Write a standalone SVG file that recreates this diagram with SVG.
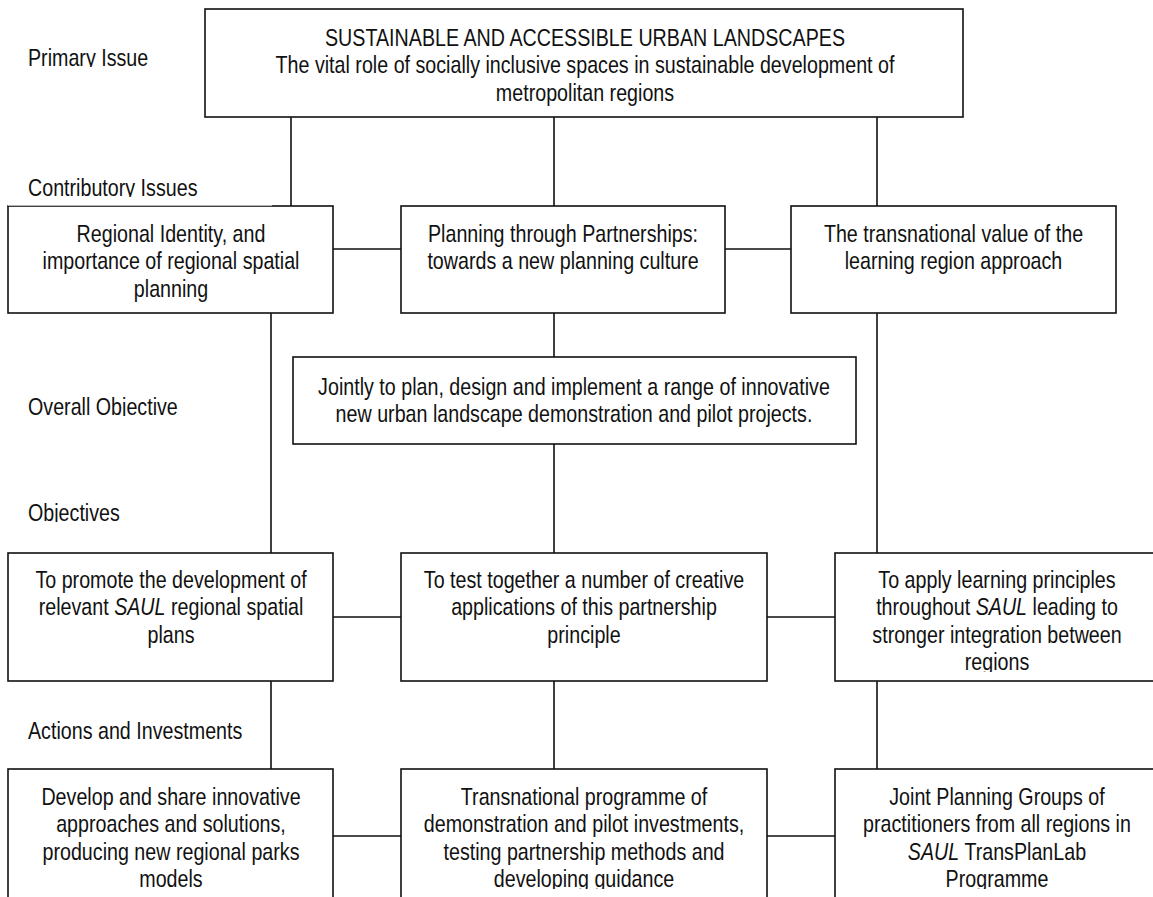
<svg xmlns="http://www.w3.org/2000/svg" width="1153" height="897" viewBox="0 0 1153 897">
<style>
.box{fill:#fff;stroke:#111;stroke-width:1.6}
.ln{stroke:#111;stroke-width:1.6;fill:none}
text{font-family:"Liberation Sans",Arial,sans-serif;font-size:24px;fill:#111}
.c{text-anchor:middle}
.i{font-style:italic}
</style>
<defs>
<clipPath id="cl1"><rect x="0" y="30" width="200" height="37"/></clipPath>
<clipPath id="cl2"><rect x="0" y="170" width="280" height="27"/></clipPath>
<clipPath id="cl3"><rect x="0" y="390" width="260" height="26"/></clipPath>
<clipPath id="cl4"><rect x="0" y="495" width="260" height="27"/></clipPath>
<clipPath id="clR4"><rect x="835" y="553" width="330" height="119"/></clipPath>
<clipPath id="clB"><rect x="0" y="769" width="1153" height="120"/></clipPath>
</defs>
<rect width="1153" height="897" fill="#fff"/>

<g id="connectors">
<path class="ln" d="M291 117V206M554 117V206M877 117V206"/>
<path class="ln" d="M333 249H401M725 249H791"/>
<path class="ln" d="M554 313V357M554 444V553M271 313V553M877 313V553"/>
<path class="ln" d="M333 617H401M767 617H835"/>
<path class="ln" d="M271 681V769M554 681V769M877 681V769"/>
<path class="ln" d="M333 836H401M767 836H835"/>
</g>

<g id="labels">
<g clip-path="url(#cl1)"><text transform="translate(28 0) scale(0.82 1)" x="0" y="66">Primary Issue</text></g>
<g clip-path="url(#cl2)"><text transform="translate(28 0) scale(0.82 1)" x="0" y="196">Contributory Issues</text></g>
<g clip-path="url(#cl3)"><text transform="translate(28 0) scale(0.82 1)" x="0" y="415">Overall Objective</text></g>
<g clip-path="url(#cl4)"><text transform="translate(28 0) scale(0.82 1)" x="0" y="521">Objectives</text></g>
<text transform="translate(28 0) scale(0.82 1)" x="0" y="739">Actions and Investments</text>
</g>

<g id="primary">
<rect class="box" x="205" y="9" width="758" height="108"/>
<g transform="translate(585 0) scale(0.82 1)">
<text class="c" x="0" y="46">SUSTAINABLE AND ACCESSIBLE URBAN LANDSCAPES</text>
<text class="c" x="0" y="73.5">The vital role of socially inclusive spaces in sustainable development of</text>
<text class="c" x="0" y="101">metropolitan regions</text>
</g>
</g>

<g id="contrib-left">
<rect class="box" x="8" y="206" width="325" height="107"/>
<rect x="8" y="199" width="264" height="6.6" fill="#fff"/>
<g transform="translate(171 0) scale(0.82 1)">
<text class="c" x="0" y="242">Regional Identity, and</text>
<text class="c" x="0" y="269.5">importance of regional spatial</text>
<text class="c" x="0" y="297">planning</text>
</g>
</g>

<g id="contrib-center">
<rect class="box" x="401" y="206" width="324" height="107"/>
<g transform="translate(563 0) scale(0.82 1)">
<text class="c" x="0" y="242">Planning through Partnerships:</text>
<text class="c" x="0" y="269.5">towards a new planning culture</text>
</g>
</g>

<g id="contrib-right">
<rect class="box" x="791" y="206" width="325" height="107"/>
<g transform="translate(953.5 0) scale(0.82 1)">
<text class="c" x="0" y="242">The transnational value of the</text>
<text class="c" x="0" y="269.5">learning region approach</text>
</g>
</g>

<g id="overall">
<rect class="box" x="293" y="357" width="563" height="87"/>
<g transform="translate(574 0) scale(0.82 1)">
<text class="c" x="0" y="395">Jointly to plan, design and implement a range of innovative</text>
<text class="c" x="0" y="422.5">new urban landscape demonstration and pilot projects.</text>
</g>
</g>

<g id="obj-left">
<rect class="box" x="8" y="553" width="325" height="128"/>
<g transform="translate(171 0) scale(0.82 1)">
<text class="c" x="0" y="588">To promote the development of</text>
<text class="c" x="0" y="615.5">relevant <tspan class="i">SAUL</tspan> regional spatial</text>
<text class="c" x="0" y="643">plans</text>
</g>
</g>

<g id="obj-center">
<rect class="box" x="401" y="553" width="366" height="128"/>
<g transform="translate(584 0) scale(0.82 1)">
<text class="c" x="0" y="588">To test together a number of creative</text>
<text class="c" x="0" y="615.5">applications of this partnership</text>
<text class="c" x="0" y="643">principle</text>
</g>
</g>

<g id="obj-right">
<rect class="box" x="835" y="553" width="324" height="128"/>
<g clip-path="url(#clR4)">
<g transform="translate(997 0) scale(0.82 1)">
<text class="c" x="0" y="588">To apply learning principles</text>
<text class="c" x="0" y="615.5">throughout <tspan class="i">SAUL</tspan> leading to</text>
<text class="c" x="0" y="643">stronger integration between</text>
<text class="c" x="0" y="670.5">regions</text>
</g>
</g>
</g>

<g id="act-left">
<rect class="box" x="8" y="769" width="325" height="140"/>
<g clip-path="url(#clB)">
<g transform="translate(171 0) scale(0.82 1)">
<text class="c" x="0" y="805">Develop and share innovative</text>
<text class="c" x="0" y="832.5">approaches and solutions,</text>
<text class="c" x="0" y="860">producing new regional parks</text>
<text class="c" x="0" y="887.5">models</text>
</g>
</g>
</g>

<g id="act-center">
<rect class="box" x="401" y="769" width="366" height="140"/>
<g clip-path="url(#clB)">
<g transform="translate(584 0) scale(0.82 1)">
<text class="c" x="0" y="805">Transnational programme of</text>
<text class="c" x="0" y="832.5">demonstration and pilot investments,</text>
<text class="c" x="0" y="860">testing partnership methods and</text>
<text class="c" x="0" y="887.5">developing guidance</text>
</g>
</g>
</g>

<g id="act-right">
<rect class="box" x="835" y="769" width="324" height="140"/>
<g clip-path="url(#clB)">
<g transform="translate(997 0) scale(0.82 1)">
<text class="c" x="0" y="805">Joint Planning Groups of</text>
<text class="c" x="0" y="832.5">practitioners from all regions in</text>
<text class="c" x="0" y="860"><tspan class="i">SAUL</tspan> TransPlanLab</text>
<text class="c" x="0" y="887.5">Programme</text>
</g>
</g>
</g>
</svg>
